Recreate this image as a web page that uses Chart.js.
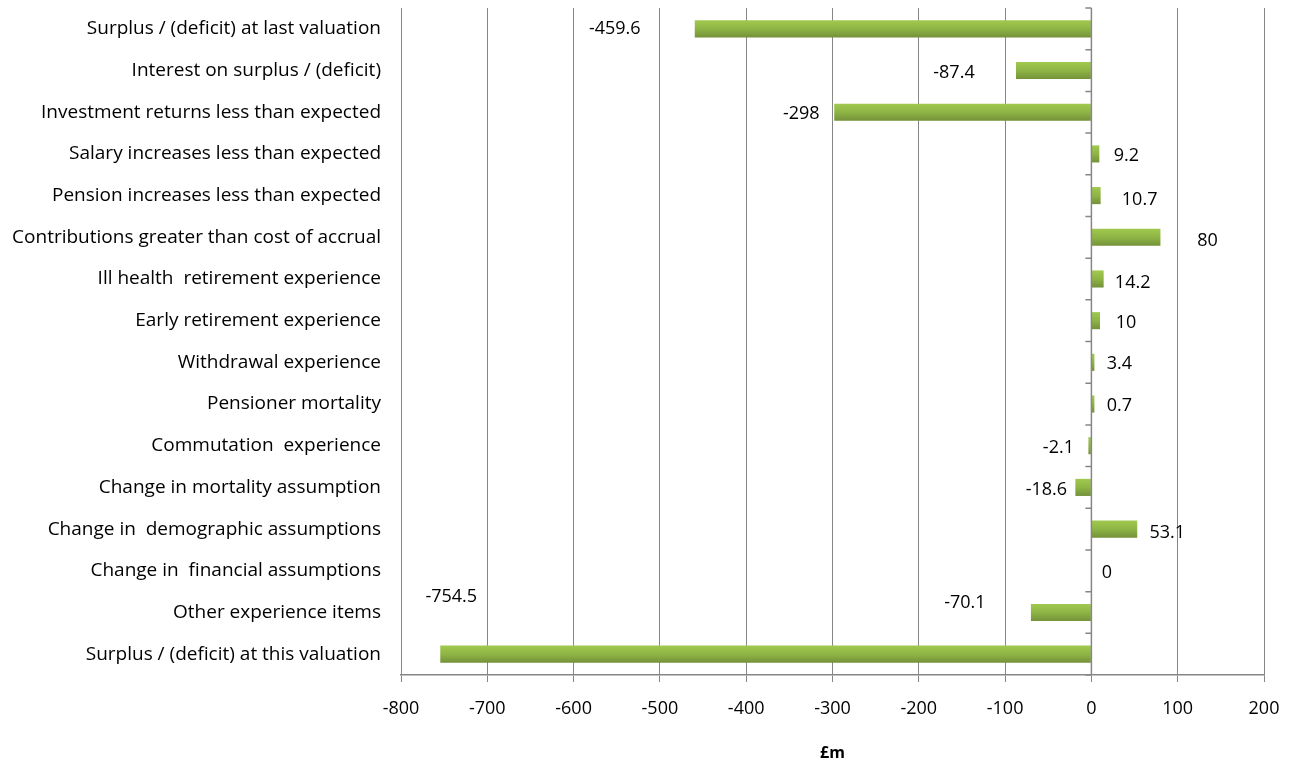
<!DOCTYPE html>
<html lang="en">
<head>
    <meta charset="UTF-8">
    <title>Analysis of surplus / (deficit)</title>
    <script src="https://cdn.jsdelivr.net/npm/chart.js"></script>
    <style>
        html, body { margin: 0; padding: 0; background: #fff; }
        #wrap { width: 1295px; height: 763px; }
    </style>
</head>
<body>
    <div id="wrap"><canvas id="chart"></canvas></div>

    <script>
        // Categories, top to bottom
        const categories = [
            'Surplus / (deficit) at last valuation',
            'Interest on surplus / (deficit)',
            'Investment returns less than expected',
            'Salary increases less than expected',
            'Pension increases less than expected',
            'Contributions greater than cost of accrual',
            'Ill health  retirement experience',
            'Early retirement experience',
            'Withdrawal experience',
            'Pensioner mortality',
            'Commutation  experience',
            'Change in mortality assumption',
            'Change in  demographic assumptions',
            'Change in  financial assumptions',
            'Other experience items',
            'Surplus / (deficit) at this valuation'
        ];

        // £m values
        const values = [-459.6, -87.4, -298, 9.2, 10.7, 80, 14.2, 10, 3.4, 0.7, -2.1, -18.6, 53.1, 0, -70.1, -754.5];

        // x axis range / step
        const xMin = -800;
        const xMax = 200;
        const xStep = 100;

        // data label nudges (px from bar end / bar centre), the labels were hand-placed in the original
        const labelDx = [-80, -62, -33, 27, 39, 47, 29, 26, 25, 25, -30, -29, 30, 17, -66, 11];
        const labelDy = [0, 2, 2, 2, 4, 4, 4, 2, 2, 2, 2, 2, 4, 2, -10, -57];

        const font = '"Open Sans", "Noto Sans", sans-serif';

        function barGradient(context) {
            const chart = context.chart;
            if (values[context.dataIndex] === 0) return 'rgba(0,0,0,0)';
            if (!chart.chartArea || !chart.scales.y) return '#8db443';
            const yc = chart.scales.y.getPixelForValue(context.dataIndex);
            const g = chart.ctx.createLinearGradient(0, yc - 9, 0, yc + 9);
            g.addColorStop(0, '#a2ca4f');
            g.addColorStop(0.5, '#8eb545');
            g.addColorStop(1, '#738f38');
            return g;
        }

        // zero axis line with category tick marks
        const zeroAxis = {
            id: 'zeroAxis',
            afterDatasetsDraw(chart) {
                const ctx = chart.ctx;
                const x0 = chart.scales.x.getPixelForValue(0);
                const area = chart.chartArea;
                const n = categories.length;
                const band = (area.bottom - area.top) / n;
                ctx.save();
                ctx.strokeStyle = '#868686';
                ctx.lineWidth = 1.5;
                ctx.beginPath();
                ctx.moveTo(x0, area.top);
                ctx.lineTo(x0, area.bottom);
                for (let i = 0; i <= n; i++) {
                    const y = area.top + i * band;
                    ctx.moveTo(x0 - 6, y);
                    ctx.lineTo(x0, y);
                }
                ctx.stroke();
                ctx.restore();
            }
        };

        const dataLabels = {
            id: 'dataLabels',
            afterDatasetsDraw(chart) {
                const ctx = chart.ctx;
                const meta = chart.getDatasetMeta(0);
                ctx.save();
                ctx.fillStyle = '#000';
                ctx.font = '18px ' + font;
                ctx.textAlign = 'center';
                ctx.textBaseline = 'middle';
                meta.data.forEach((bar, i) => {
                    ctx.fillText(String(values[i]), bar.x + labelDx[i], bar.y + labelDy[i]);
                });
                ctx.restore();
            }
        };

        const xTicks = [];
        for (let v = xMin; v <= xMax; v += xStep) xTicks.push(v);

        new Chart(document.getElementById('chart'), {
            type: 'bar',
            data: {
                labels: categories,
                datasets: [{
                    data: values,
                    backgroundColor: barGradient,
                    borderWidth: 0,
                    minBarLength: 3,
                    categoryPercentage: 1,
                    barPercentage: 0.41
                }]
            },
            options: {
                indexAxis: 'y',
                responsive: true,
                maintainAspectRatio: false,
                animation: false,
                devicePixelRatio: 1,
                layout: { padding: { top: 8, right: 31, left: 0, bottom: 0 } },
                plugins: {
                    legend: { display: false },
                    tooltip: { enabled: false }
                },
                scales: {
                    x: {
                        min: xMin,
                        max: xMax,
                        afterBuildTicks(scale) {
                            scale.ticks = xTicks.map(v => ({ value: v }));
                        },
                        afterFit(scale) {
                            scale.height = 88;
                            scale.paddingLeft = 0;
                            scale.paddingRight = 0;
                        },
                        grid: {
                            color: '#868686',
                            lineWidth: 1,
                            drawTicks: true,
                            tickLength: 7
                        },
                        border: { color: '#868686', width: 1.5 },
                        ticks: {
                            color: '#000',
                            font: { size: 18, family: font },
                            padding: 16,
                            maxRotation: 0
                        },
                        title: {
                            display: true,
                            text: '£m',
                            color: '#000',
                            font: { size: 16, weight: 'bold', family: font },
                            padding: { top: 10, bottom: 0 }
                        }
                    },
                    y: {
                        afterFit(scale) {
                            scale.width = 401;
                            scale.paddingTop = 0;
                            scale.paddingBottom = 0;
                        },
                        grid: { display: false },
                        border: { display: false },
                        ticks: {
                            color: '#000',
                            font: { size: 19, family: font },
                            padding: 12,
                            autoSkip: false
                        }
                    }
                }
            },
            plugins: [zeroAxis, dataLabels]
        });
    </script>
</body>
</html>
